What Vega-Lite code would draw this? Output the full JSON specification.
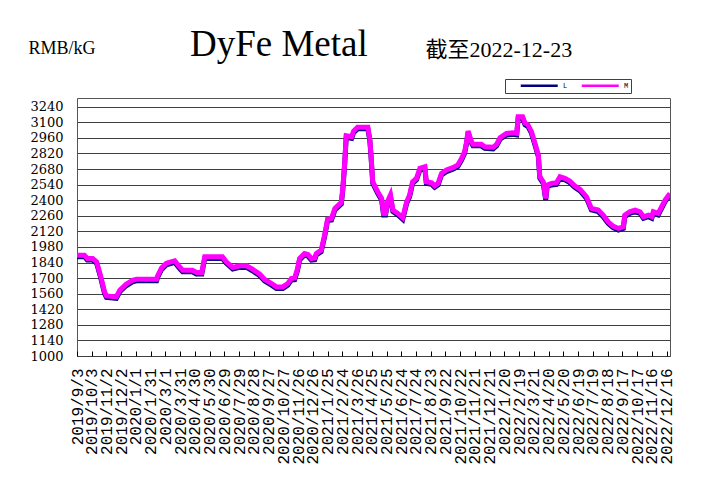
{
  "$schema": "https://vega.github.io/schema/vega-lite/v6.json",
  "width": 593,
  "height": 258,
  "autosize": {"type": "none"},
  "padding": {"left": 77, "top": 98, "right": 38, "bottom": 129},
  "background": "white",
  "title": {
    "text": "DyFe Metal",
    "font": "Liberation Serif",
    "fontSize": 37,
    "fontWeight": "normal",
    "color": "black",
    "anchor": "start",
    "frame": "group",
    "dx": 113,
    "dy": 42,
    "offset": 16
  },
  "data": {
    "format": {"parse": {"date": "date:'%Y-%m-%d'"}},
    "values": [
      {"date": "2019-09-03", "L": 1892, "M": 1906},
      {"date": "2019-09-18", "L": 1892, "M": 1906},
      {"date": "2019-09-24", "L": 1862, "M": 1876},
      {"date": "2019-10-05", "L": 1862, "M": 1876},
      {"date": "2019-10-13", "L": 1832, "M": 1846},
      {"date": "2019-10-21", "L": 1706, "M": 1720},
      {"date": "2019-10-29", "L": 1562, "M": 1576},
      {"date": "2019-11-02", "L": 1526, "M": 1540},
      {"date": "2019-11-22", "L": 1517, "M": 1531},
      {"date": "2019-11-29", "L": 1577, "M": 1591},
      {"date": "2019-12-12", "L": 1631, "M": 1645},
      {"date": "2019-12-25", "L": 1667, "M": 1681},
      {"date": "2020-01-02", "L": 1676, "M": 1690},
      {"date": "2020-02-12", "L": 1676, "M": 1690},
      {"date": "2020-02-14", "L": 1706, "M": 1720},
      {"date": "2020-02-22", "L": 1776, "M": 1790},
      {"date": "2020-03-03", "L": 1820, "M": 1834},
      {"date": "2020-03-20", "L": 1841, "M": 1855},
      {"date": "2020-03-30", "L": 1786, "M": 1800},
      {"date": "2020-04-05", "L": 1757, "M": 1771},
      {"date": "2020-04-25", "L": 1757, "M": 1771},
      {"date": "2020-05-03", "L": 1736, "M": 1750},
      {"date": "2020-05-14", "L": 1736, "M": 1750},
      {"date": "2020-05-20", "L": 1877, "M": 1891},
      {"date": "2020-06-25", "L": 1877, "M": 1891},
      {"date": "2020-07-03", "L": 1832, "M": 1846},
      {"date": "2020-07-16", "L": 1781, "M": 1795},
      {"date": "2020-07-30", "L": 1796, "M": 1810},
      {"date": "2020-08-13", "L": 1796, "M": 1810},
      {"date": "2020-08-25", "L": 1766, "M": 1780},
      {"date": "2020-09-09", "L": 1721, "M": 1735},
      {"date": "2020-09-19", "L": 1673, "M": 1687},
      {"date": "2020-10-03", "L": 1637, "M": 1651},
      {"date": "2020-10-13", "L": 1607, "M": 1621},
      {"date": "2020-10-26", "L": 1607, "M": 1621},
      {"date": "2020-11-05", "L": 1637, "M": 1651},
      {"date": "2020-11-12", "L": 1682, "M": 1696},
      {"date": "2020-11-19", "L": 1686, "M": 1700},
      {"date": "2020-11-25", "L": 1772, "M": 1786},
      {"date": "2020-11-29", "L": 1862, "M": 1876},
      {"date": "2020-12-09", "L": 1907, "M": 1921},
      {"date": "2020-12-16", "L": 1898, "M": 1912},
      {"date": "2020-12-23", "L": 1862, "M": 1876},
      {"date": "2020-12-30", "L": 1866, "M": 1880},
      {"date": "2021-01-02", "L": 1907, "M": 1921},
      {"date": "2021-01-12", "L": 1937, "M": 1951},
      {"date": "2021-01-19", "L": 2072, "M": 2086},
      {"date": "2021-01-25", "L": 2216, "M": 2230},
      {"date": "2021-02-02", "L": 2222, "M": 2236},
      {"date": "2021-02-09", "L": 2312, "M": 2326},
      {"date": "2021-02-22", "L": 2366, "M": 2380},
      {"date": "2021-02-25", "L": 2492, "M": 2506},
      {"date": "2021-03-01", "L": 2732, "M": 2746},
      {"date": "2021-03-04", "L": 2965, "M": 2979},
      {"date": "2021-03-15", "L": 2956, "M": 2970},
      {"date": "2021-03-19", "L": 3007, "M": 3021},
      {"date": "2021-03-27", "L": 3041, "M": 3055},
      {"date": "2021-04-17", "L": 3041, "M": 3055},
      {"date": "2021-04-21", "L": 2936, "M": 2950},
      {"date": "2021-04-23", "L": 2821, "M": 2835},
      {"date": "2021-04-27", "L": 2551, "M": 2565},
      {"date": "2021-05-07", "L": 2462, "M": 2476},
      {"date": "2021-05-15", "L": 2402, "M": 2416},
      {"date": "2021-05-19", "L": 2267, "M": 2281},
      {"date": "2021-05-23", "L": 2267, "M": 2281},
      {"date": "2021-05-27", "L": 2372, "M": 2386},
      {"date": "2021-06-02", "L": 2432, "M": 2446},
      {"date": "2021-06-07", "L": 2297, "M": 2311},
      {"date": "2021-06-17", "L": 2267, "M": 2281},
      {"date": "2021-06-27", "L": 2228, "M": 2242},
      {"date": "2021-07-05", "L": 2372, "M": 2386},
      {"date": "2021-07-11", "L": 2432, "M": 2446},
      {"date": "2021-07-17", "L": 2551, "M": 2565},
      {"date": "2021-07-25", "L": 2582, "M": 2596},
      {"date": "2021-08-01", "L": 2672, "M": 2686},
      {"date": "2021-08-11", "L": 2686, "M": 2700},
      {"date": "2021-08-14", "L": 2551, "M": 2565},
      {"date": "2021-08-25", "L": 2542, "M": 2556},
      {"date": "2021-08-31", "L": 2516, "M": 2530},
      {"date": "2021-09-07", "L": 2537, "M": 2551},
      {"date": "2021-09-14", "L": 2627, "M": 2641},
      {"date": "2021-09-24", "L": 2657, "M": 2671},
      {"date": "2021-10-07", "L": 2678, "M": 2692},
      {"date": "2021-10-17", "L": 2702, "M": 2716},
      {"date": "2021-10-25", "L": 2762, "M": 2776},
      {"date": "2021-10-31", "L": 2821, "M": 2835},
      {"date": "2021-11-04", "L": 2911, "M": 2925},
      {"date": "2021-11-07", "L": 3007, "M": 3021},
      {"date": "2021-11-14", "L": 2911, "M": 2925},
      {"date": "2021-11-17", "L": 2888, "M": 2902},
      {"date": "2021-12-04", "L": 2888, "M": 2902},
      {"date": "2021-12-11", "L": 2866, "M": 2880},
      {"date": "2021-12-28", "L": 2861, "M": 2875},
      {"date": "2022-01-04", "L": 2888, "M": 2902},
      {"date": "2022-01-11", "L": 2947, "M": 2961},
      {"date": "2022-01-24", "L": 2986, "M": 3000},
      {"date": "2022-02-06", "L": 2991, "M": 3005},
      {"date": "2022-02-14", "L": 2986, "M": 3000},
      {"date": "2022-02-17", "L": 3136, "M": 3150},
      {"date": "2022-02-26", "L": 3136, "M": 3150},
      {"date": "2022-03-03", "L": 3077, "M": 3091},
      {"date": "2022-03-09", "L": 3062, "M": 3076},
      {"date": "2022-03-16", "L": 3002, "M": 3016},
      {"date": "2022-03-23", "L": 2897, "M": 2911},
      {"date": "2022-03-30", "L": 2792, "M": 2806},
      {"date": "2022-04-02", "L": 2597, "M": 2611},
      {"date": "2022-04-09", "L": 2551, "M": 2565},
      {"date": "2022-04-14", "L": 2402, "M": 2416},
      {"date": "2022-04-17", "L": 2522, "M": 2536},
      {"date": "2022-04-26", "L": 2537, "M": 2551},
      {"date": "2022-05-06", "L": 2542, "M": 2556},
      {"date": "2022-05-13", "L": 2597, "M": 2611},
      {"date": "2022-05-23", "L": 2582, "M": 2596},
      {"date": "2022-06-02", "L": 2558, "M": 2572},
      {"date": "2022-06-12", "L": 2516, "M": 2530},
      {"date": "2022-06-23", "L": 2483, "M": 2497},
      {"date": "2022-07-06", "L": 2417, "M": 2431},
      {"date": "2022-07-16", "L": 2312, "M": 2326},
      {"date": "2022-07-30", "L": 2297, "M": 2311},
      {"date": "2022-08-09", "L": 2252, "M": 2266},
      {"date": "2022-08-19", "L": 2192, "M": 2206},
      {"date": "2022-08-29", "L": 2153, "M": 2167},
      {"date": "2022-09-09", "L": 2132, "M": 2146},
      {"date": "2022-09-19", "L": 2146, "M": 2160},
      {"date": "2022-09-22", "L": 2252, "M": 2266},
      {"date": "2022-10-02", "L": 2282, "M": 2296},
      {"date": "2022-10-13", "L": 2297, "M": 2311},
      {"date": "2022-10-23", "L": 2282, "M": 2296},
      {"date": "2022-10-30", "L": 2237, "M": 2251},
      {"date": "2022-11-09", "L": 2252, "M": 2266},
      {"date": "2022-11-16", "L": 2237, "M": 2251},
      {"date": "2022-11-19", "L": 2282, "M": 2296},
      {"date": "2022-11-29", "L": 2267, "M": 2281},
      {"date": "2022-12-06", "L": 2327, "M": 2341},
      {"date": "2022-12-13", "L": 2387, "M": 2401},
      {"date": "2022-12-23", "L": 2447, "M": 2461}
    ]
  },
  "transform": [{"fold": ["L", "M"], "as": ["series", "price"]}],
  "mark": {"type": "line", "strokeWidth": 5, "clip": true},
  "encoding": {
    "x": {
      "field": "date",
      "type": "temporal",
      "scale": {"domain": [{"year": 2019, "month": 9, "date": 3}, {"year": 2022, "month": 12, "date": 23}]},
      "axis": {
        "title": "截至2022-12-23",
        "titleFont": "Liberation Serif, Noto Sans CJK SC",
        "titleFontSize": 22,
        "titleFontWeight": "normal",
        "titleColor": "black",
        "titleX": 348,
        "titleY": -300,
        "titleAlign": "left",
        "titleBaseline": "alphabetic",
        "titleAngle": 0,
        "format": "%Y/%-m/%-d",
        "labelAngle": 270,
        "labelAlign": "right",
        "labelBaseline": "middle",
        "labelFont": "Liberation Mono",
        "labelFontSize": 16,
        "labelColor": "black",
        "labelOverlap": false,
        "labelFlush": false,
        "labelBound": false,
        "labelPadding": 17,
        "grid": false,
        "domain": false,
        "ticks": true,
        "tickSize": -5,
        "tickColor": "black",
        "tickWidth": 1,
        "values": [
          {"year": 2019, "month": 9, "date": 3},
          {"year": 2019, "month": 10, "date": 3},
          {"year": 2019, "month": 11, "date": 2},
          {"year": 2019, "month": 12, "date": 2},
          {"year": 2020, "month": 1, "date": 1},
          {"year": 2020, "month": 1, "date": 31},
          {"year": 2020, "month": 3, "date": 1},
          {"year": 2020, "month": 3, "date": 31},
          {"year": 2020, "month": 4, "date": 30},
          {"year": 2020, "month": 5, "date": 30},
          {"year": 2020, "month": 6, "date": 29},
          {"year": 2020, "month": 7, "date": 29},
          {"year": 2020, "month": 8, "date": 28},
          {"year": 2020, "month": 9, "date": 27},
          {"year": 2020, "month": 10, "date": 27},
          {"year": 2020, "month": 11, "date": 26},
          {"year": 2020, "month": 12, "date": 26},
          {"year": 2021, "month": 1, "date": 25},
          {"year": 2021, "month": 2, "date": 24},
          {"year": 2021, "month": 3, "date": 26},
          {"year": 2021, "month": 4, "date": 25},
          {"year": 2021, "month": 5, "date": 25},
          {"year": 2021, "month": 6, "date": 24},
          {"year": 2021, "month": 7, "date": 24},
          {"year": 2021, "month": 8, "date": 23},
          {"year": 2021, "month": 9, "date": 22},
          {"year": 2021, "month": 10, "date": 22},
          {"year": 2021, "month": 11, "date": 21},
          {"year": 2021, "month": 12, "date": 21},
          {"year": 2022, "month": 1, "date": 20},
          {"year": 2022, "month": 2, "date": 19},
          {"year": 2022, "month": 3, "date": 21},
          {"year": 2022, "month": 4, "date": 20},
          {"year": 2022, "month": 5, "date": 20},
          {"year": 2022, "month": 6, "date": 19},
          {"year": 2022, "month": 7, "date": 19},
          {"year": 2022, "month": 8, "date": 18},
          {"year": 2022, "month": 9, "date": 17},
          {"year": 2022, "month": 10, "date": 17},
          {"year": 2022, "month": 11, "date": 16},
          {"year": 2022, "month": 12, "date": 16}
        ]
      }
    },
    "y": {
      "field": "price",
      "type": "quantitative",
      "scale": {"domain": [1000, 3318], "nice": false, "zero": false},
      "axis": {
        "title": "RMB/kG",
        "titleFont": "Liberation Serif",
        "titleFontSize": 18,
        "titleFontWeight": "normal",
        "titleColor": "black",
        "titleAngle": 0,
        "titleX": -49,
        "titleY": -45,
        "titleAlign": "left",
        "titleBaseline": "alphabetic",
        "values": [1000, 1140, 1280, 1420, 1560, 1700, 1840, 1980, 2120, 2260, 2400, 2540, 2680, 2820, 2960, 3100, 3240],
        "format": "d",
        "labelFont": "DejaVu Serif",
        "labelFontSize": 13,
        "labelColor": "black",
        "labelPadding": 14,
        "labelOverlap": false,
        "labelBound": false,
        "labelFlush": false,
        "ticks": false,
        "domain": false,
        "grid": true,
        "gridColor": "#404040",
        "gridWidth": 1.2,
        "gridOpacity": 1
      }
    },
    "color": {
      "field": "series",
      "type": "nominal",
      "scale": {"domain": ["L", "M"], "range": ["#000080", "#FF00FF"]},
      "legend": {
        "orient": "none",
        "legendX": 428,
        "legendY": -19,
        "direction": "horizontal",
        "title": null,
        "symbolType": "M3,0H15",
        "symbolSize": 38,
        "symbolStrokeWidth": 2.5,
        "labelFont": "Liberation Mono",
        "labelFontSize": 7,
        "labelColor": "black",
        "labelOffset": 47,
        "columnPadding": 0,
        "padding": 2,
        "strokeColor": "#404040",
        "fillColor": "white"
      }
    }
  },
  "config": {
    "view": {"stroke": "#555555", "strokeWidth": 1}
  }
}
